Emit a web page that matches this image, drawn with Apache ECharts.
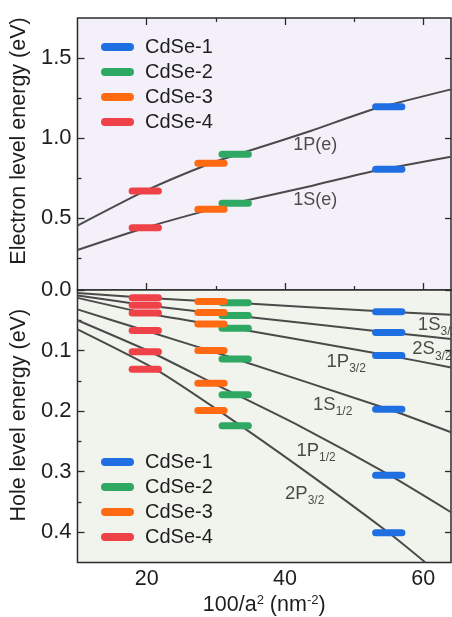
<!DOCTYPE html>
<html><head><meta charset="utf-8">
<script src="https://cdn.jsdelivr.net/npm/echarts@6/dist/echarts.min.js"></script>
<style>html,body{margin:0;padding:0;background:#fff}#c{width:452px;height:617px}</style>
</head><body><div id="c"></div>
<script>
// ---------------- data ----------------
const samples = ['CdSe-1', 'CdSe-2', 'CdSe-3', 'CdSe-4'];
const sampleColors = ['#1f6fe2', '#2ea862', '#ff6a12', '#ef4148'];
const sampleX = [55.0, 32.8, 29.3, 19.8];           // 100/a^2 of each sample

// electron levels per sample: [1P(e), 1S(e)]
const elecCdSe1 = [1.196, 0.804];
const elecCdSe2 = [0.898, 0.592];
const elecCdSe3 = [0.842, 0.554];
const elecCdSe4 = [0.669, 0.439];
// hole levels per sample: 1S3/2, 2S3/2, 1P3/2, 1S1/2, 1P1/2, 2P3/2
const holeCdSe1 = [0.036, 0.070, 0.108, 0.197, 0.306, 0.401];
const holeCdSe2 = [0.021, 0.042, 0.063, 0.114, 0.173, 0.224];
const holeCdSe3 = [0.019, 0.037, 0.056, 0.100, 0.154, 0.199];
const holeCdSe4 = [0.013, 0.025, 0.038, 0.067, 0.102, 0.131];

// theory curves [100/a^2, energy]
const curve1Pe = [[10, 0.452], [19.8, 0.669], [29.3, 0.842], [34.7, 0.919], [43.8, 1.045], [52.4, 1.175], [64, 1.304]];
const curve1Se = [[10, 0.300], [19.8, 0.439], [29.3, 0.554], [34.7, 0.612], [43.8, 0.700], [52.4, 0.789], [64, 0.883]];
const curve1S32 = [[10, 0.005], [19.8, 0.013], [31, 0.020], [55, 0.036], [64, 0.041]];
const curve2S32 = [[10, 0.009], [19.8, 0.025], [31, 0.040], [55, 0.070], [64, 0.081]];
const curve1P32 = [[10, 0.013], [19.8, 0.038], [31, 0.060], [55, 0.108], [64, 0.128]];
const curve1S12 = [[10, 0.032], [19.8, 0.067], [31, 0.107], [55, 0.197], [64, 0.235]];
const curve1P12 = [[10, 0.050], [20.5, 0.102], [29.8, 0.155], [42, 0.224], [55, 0.305], [64, 0.367]];
const curve2P32 = [[10, 0.065], [21.3, 0.131], [30.9, 0.203], [43, 0.300], [55, 0.401], [60.3, 0.450]];

// curve annotations
const elecLabels = ['1P(e)', '1S(e)'];
const elecLabelAt = [[41.2, 0.956], [41.2, 0.612]];
const holeLabelMain = ['1S', '2S', '1P', '1S', '1P', '2P'];
const holeLabelSub = ['3/2', '3/2', '3/2', '1/2', '1/2', '3/2'];
const holeLabelAt = [[59.2, 0.057], [58.4, 0.098], [46.0, 0.119], [44.05, 0.189], [41.65, 0.265], [40.0, 0.337]];

// ticks
const xMajorTicks = [20, 40, 60];
const xMinorTicks = [30, 50];
const elecMajorTicks = [0.5, 1.0, 1.5];
const elecMinorTicks = [0.25, 0.75, 1.25];
const holeMajorTicks = [0, 0.1, 0.2, 0.3, 0.4];
const holeMinorTicks = [0.05, 0.15, 0.25, 0.35];

// ---------------- style ----------------
const FONT = '"Liberation Sans", Arial, sans-serif';
const AX = '#2b2b2b';
const TXT = '#1e1e1e';
const BAR_HALF = 1.9;
const X_MIN = 10, X_MAX = 64;

function xAx(grid, pos, ticks, len, extra) {
  return Object.assign({
    type: 'value', gridIndex: grid, position: pos, min: X_MIN, max: X_MAX,
    axisLine: {show: false}, splitLine: {show: false},
    axisTick: {show: true, inside: true, length: len, customValues: ticks, lineStyle: {color: AX, width: 1.3}},
    axisLabel: {show: false}
  }, extra || {});
}
function yAx(grid, pos, min, max, inverse, ticks, len, extra) {
  return Object.assign({
    type: 'value', gridIndex: grid, position: pos, min: min, max: max, inverse: inverse,
    axisLine: {show: false}, splitLine: {show: false},
    axisTick: {show: true, inside: true, length: len, customValues: ticks, lineStyle: {color: AX, width: 1.3}},
    axisLabel: {show: false}
  }, extra || {});
}
const yLabel = (ticks) => ({show: true, customValues: ticks, margin: 6, fontSize: 22, fontFamily: FONT, color: TXT,
  formatter: v => Number(v).toFixed(1)});

function renderBar(params, api) {
  const x = api.value(0), y = api.value(1);
  const p1 = api.coord([x - BAR_HALF, y]);
  const p2 = api.coord([x + BAR_HALF, y]);
  return {type: 'line', shape: {x1: p1[0], y1: p1[1], x2: p2[0], y2: p2[1]},
    style: {stroke: api.visual('color'), lineWidth: 7, lineCap: 'round'}};
}
function barSeries(i, values, xi, yi) {
  return {type: 'custom', name: samples[i], xAxisIndex: xi, yAxisIndex: yi, z: 5,
    itemStyle: {color: sampleColors[i]}, renderItem: renderBar, silent: true,
    encode: {x: 0, y: 1}, data: values.map(v => [sampleX[i], v])};
}
function curve(data, xi, yi) {
  return {type: 'line', data: data, xAxisIndex: xi, yAxisIndex: yi, smooth: 0.2, symbol: 'none',
    lineStyle: {color: '#4a4a4a', width: 2}, z: 2, silent: true};
}

const pill = 'path://M4,0L29,0A4,4,0,0,1,29,8L4,8A4,4,0,0,1,4,0Z';
function legendAt(top) {
  return {data: samples, orient: 'vertical', left: 96, top: top, icon: pill,
    itemWidth: 33, itemHeight: 8, itemGap: 5, selectedMode: false,
    textStyle: {fontSize: 20, lineHeight: 20, fontFamily: FONT, color: TXT, padding: [0, 0, 0, 6]}};
}

const elecSets = [elecCdSe1, elecCdSe2, elecCdSe3, elecCdSe4];
const holeSets = [holeCdSe1, holeCdSe2, holeCdSe3, holeCdSe4];

const series = [
  curve(curve1Pe, 0, 0), curve(curve1Se, 0, 0),
  curve(curve1S32, 2, 3), curve(curve2S32, 2, 3), curve(curve1P32, 2, 3),
  curve(curve1S12, 2, 3), curve(curve1P12, 2, 3), curve(curve2P32, 2, 3),
];
elecSets.forEach((v, i) => series.push(barSeries(i, v, 0, 0)));
holeSets.forEach((v, i) => series.push(barSeries(i, v, 2, 3)));

series.push({
  type: 'scatter', xAxisIndex: 0, yAxisIndex: 0, symbolSize: 0.1, silent: true, z: 6,
  itemStyle: {color: 'transparent'},
  data: elecLabelAt.map((p, k) => ({value: p, label: {formatter: elecLabels[k]}})),
  label: {show: true, position: 'right', distance: 0, fontSize: 18, fontFamily: FONT, color: TXT}
});
series.push({
  type: 'scatter', xAxisIndex: 2, yAxisIndex: 3, symbolSize: 0.1, silent: true, z: 6,
  itemStyle: {color: 'transparent'},
  data: holeLabelAt.map((p, k) => ({value: p, label: {formatter: '{m|' + holeLabelMain[k] + '}{s|' + holeLabelSub[k] + '}'}})),
  label: {show: true, position: 'right', distance: 0, fontFamily: FONT, color: TXT,
    rich: {m: {fontSize: 18.5, fontFamily: FONT, color: TXT},
           s: {fontSize: 12, fontFamily: FONT, color: TXT, padding: [14, 0, 0, 0]}}}
});

const option = {
  animation: false,
  backgroundColor: '#ffffff',
  grid: [
    {left: 75, right: 1, top: 18, height: 272, show: true, backgroundColor: '#f4f0fa', borderColor: AX, borderWidth: 1.5},
    {left: 75, right: 1, top: 290, height: 273, show: true, backgroundColor: '#f0f4ec', borderColor: AX, borderWidth: 1.5}
  ],
  legend: [legendAt(32), legendAt(447)],
  xAxis: [
    xAx(0, 'top', xMajorTicks, 7),
    xAx(0, 'top', xMinorTicks, 4),
    xAx(1, 'bottom', xMajorTicks, 7, {
      axisLabel: {show: true, customValues: xMajorTicks, margin: 6, fontSize: 21.5, fontFamily: FONT, color: TXT},
      name: '100/a{sup|2} (nm{sup|-2})', nameLocation: 'middle', nameGap: 31,
      nameTextStyle: {fontSize: 21.5, fontFamily: FONT, color: TXT,
        rich: {sup: {fontSize: 13, fontFamily: FONT, color: TXT, padding: [0, 0, 10, 0]}}}
    }),
    xAx(1, 'bottom', xMinorTicks, 4)
  ],
  yAxis: [
    yAx(0, 'left', 0.05, 1.75, false, elecMajorTicks, 7, {
      axisLabel: yLabel(elecMajorTicks),
      name: 'Electron level energy (eV)', nameLocation: 'middle', nameGap: 40,
      nameTextStyle: {fontSize: 21.5, fontFamily: FONT, color: TXT, padding: [0, 0, 0, 26]}
    }),
    yAx(0, 'left', 0.05, 1.75, false, elecMinorTicks, 4),
    yAx(0, 'right', 0.05, 1.75, false, elecMajorTicks, 6),
    yAx(1, 'left', 0, 0.45, true, holeMajorTicks, 7, {
      axisLabel: yLabel(holeMajorTicks),
      name: 'Hole level energy (eV)', nameLocation: 'middle', nameGap: 40,
      nameTextStyle: {fontSize: 21.5, fontFamily: FONT, color: TXT, padding: [0, 0, 0, 22]}
    }),
    yAx(1, 'left', 0, 0.45, true, holeMinorTicks, 4),
    yAx(1, 'right', 0, 0.45, true, holeMajorTicks, 6)
  ],
  series: series
};

const chart = echarts.init(document.getElementById('c'), null, {renderer: 'canvas'});
chart.setOption(option);
</script>
</body></html>
